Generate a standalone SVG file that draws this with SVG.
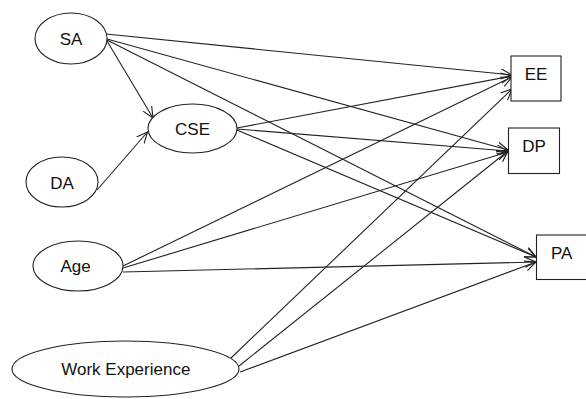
<svg xmlns="http://www.w3.org/2000/svg" width="586" height="399" viewBox="0 0 586 399">
<style>
.n{fill:#fff;stroke:#222;stroke-width:1.1}
.t{font-family:"Liberation Sans",Arial,sans-serif;font-size:17px;fill:#111;text-anchor:middle}
.c line{stroke:#222;stroke-width:1.1;marker-end:url(#a)}
</style>
<defs>
<marker id="a" markerUnits="userSpaceOnUse" markerWidth="12" markerHeight="12" refX="11" refY="5" orient="auto" viewBox="0 0 12 10">
<path d="M0,0 L11,5 L0,10" fill="none" stroke="#222" stroke-width="1.1"/>
</marker>
</defs>
<rect width="586" height="399" fill="#fff"/>
<g class="c" id="connectors">
<line x1="106" y1="34" x2="512" y2="75"/>
<line x1="107" y1="39" x2="508" y2="150"/>
<line x1="107" y1="40" x2="536" y2="257"/>
<line x1="107" y1="41" x2="153" y2="118"/>
<line x1="97" y1="190" x2="147.5" y2="132"/>
<line x1="237" y1="128" x2="512" y2="76"/>
<line x1="237" y1="129" x2="508" y2="151"/>
<line x1="237" y1="130" x2="536" y2="257"/>
<line x1="123" y1="266" x2="512" y2="77"/>
<line x1="123" y1="268" x2="508" y2="152"/>
<line x1="123" y1="272" x2="536" y2="262"/>
<line x1="231" y1="358" x2="512" y2="89"/>
<line x1="239" y1="366" x2="508" y2="151"/>
<line x1="240" y1="372" x2="536" y2="262"/>
</g>
<g id="SA"><ellipse class="n" cx="71" cy="38.5" rx="36" ry="25.5"/><text class="t" x="71" y="44.5">SA</text></g>
<g id="CSE"><ellipse class="n" cx="192.5" cy="128.5" rx="44.5" ry="24.5"/><text class="t" x="192.5" y="135">CSE</text></g>
<g id="DA"><ellipse class="n" cx="62" cy="182" rx="36" ry="25"/><text class="t" x="62" y="188.5">DA</text></g>
<g id="Age"><ellipse class="n" cx="78" cy="266" rx="45" ry="25"/><text class="t" x="75.5" y="272">Age</text></g>
<g id="WorkExperience"><ellipse class="n" cx="125.5" cy="369" rx="113.5" ry="28"/><text class="t" x="125.8" y="374.5">Work Experience</text></g>
<g id="EE"><rect class="n" x="511" y="56" width="50" height="45"/><text class="t" x="536" y="79.5">EE</text></g>
<g id="DP"><rect class="n" x="508.5" y="128" width="51" height="45.5"/><text class="t" x="534" y="151.5">DP</text></g>
<g id="PA"><rect class="n" x="536.5" y="235" width="52" height="44.5"/><text class="t" x="561.7" y="258.5">PA</text></g>
</svg>
